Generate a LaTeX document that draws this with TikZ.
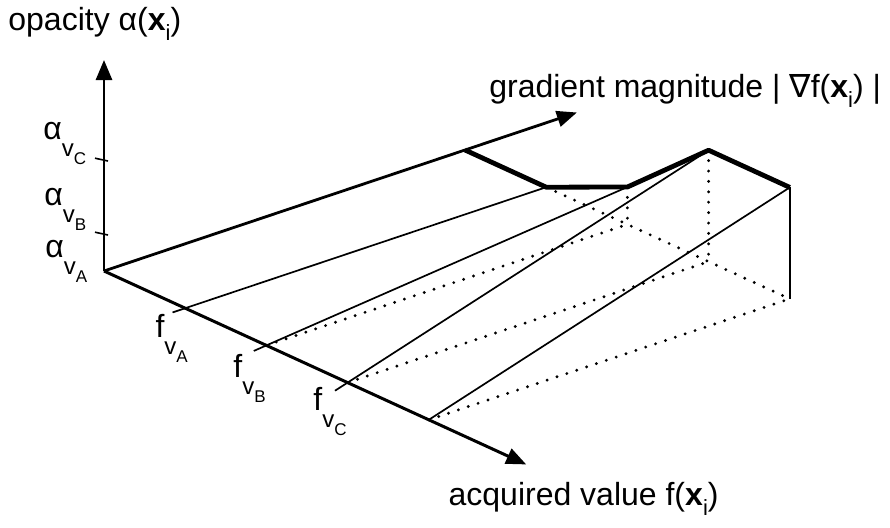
\documentclass[tikz,border=0pt]{standalone}
\usepackage{fontspec}
\setmainfont{Liberation Sans}
\newfontfamily\nablafont{DejaVu Sans}
\usepackage{tikz}
\usetikzlibrary{arrows.meta,calc}
\newcommand{\xsub}{\textbf{x}\raisebox{-5pt}{\fontsize{11}{11}\selectfont i}}
\newcommand{\vsub}[1]{\raisebox{-8.5pt}{\fontsize{12}{12}\selectfont v\raisebox{-4pt}{\fontsize{8.5}{8.5}\selectfont #1}}}

\begin{document}
\begin{tikzpicture}[x={(40.6pt,-18.6pt)},y={(180.5pt,60.5pt)},z={(0pt,0.5pt)},
  axisline/.style={line width=1.4pt,-{Triangle[length=10pt,width=8pt]}},
  surf/.style={line width=0.85pt},
  hidden/.style={line width=1.6pt,line cap=round,dash pattern=on 0pt off 5.2pt},
  ridge/.style={line width=2.4pt,line join=round},
  lab/.style={inner sep=0pt,anchor=base west,font=\fontsize{16}{19}\selectfont}]
\path[use as bounding box] (-52pt,-128pt) rectangle (393pt,135.5pt);

\coordinate (O) at (0,0,0);
\coordinate (atip) at (0,0,211);
\coordinate (gtip) at (0,1.31,0);
\coordinate (ftip) at (5.2,0,0);
\coordinate (aB) at (0,0,37.4);
\coordinate (aC) at (0,0,111.4);
\coordinate (fA) at (1,0,0);
\coordinate (fB) at (2,0,0);
\coordinate (fC) at (3,0,0);
\coordinate (fD) at (4,0,0);
\coordinate (g0) at (0,1,0);
\coordinate (bA) at (1,1,0);
\coordinate (bB) at (2,1,0);
\coordinate (bC) at (3,1,0);
\coordinate (bD) at (4,1,0);
\coordinate (tB) at (2,1,37.4);
\coordinate (tC) at (3,1,111.4);
\coordinate (tD) at (4,1,111.4);

\draw[hidden] (fB) -- (bB);
\draw[hidden] (fC) -- (bC);
\draw[hidden] (fD) -- (bD);
\draw[hidden] (bA) -- (bD);
\draw[hidden] (tB) -- (bB);
\draw[hidden] (tC) -- (bC);
\draw[surf] ($(fA)!-0.035!(bA)$) -- (bA);
\draw[surf] ($(fB)!-0.035!(tB)$) -- (tB);
\draw[surf] ($(fC)!-0.035!(tC)$) -- (tC);
\draw[surf] (fD) -- (tD);
\draw[line width=1.1pt] (tD) -- (bD);
\draw[ridge] (g0) -- (bA) -- (tB) -- (tC) -- (tD);

\draw[axisline] (O) -- (atip);
\draw[axisline] (O) -- (gtip);
\draw[axisline,line width=1.5pt] (O) -- (ftip);
\draw[line width=0.8pt] ([xshift=-4.5pt,yshift=0.7pt]aB) -- ([xshift=2pt,yshift=-0.7pt]aB);
\draw[line width=0.8pt] ([xshift=-4.5pt,yshift=0.7pt]aC) -- ([xshift=2pt,yshift=-0.7pt]aC);

\node[lab] (laba) at ([xshift=-48pt,yshift=15pt]atip) {opacity α(\xsub)};
\node[lab] (labg) at ([xshift=-44pt,yshift=7.3pt]gtip) {gradient magnitude | {\nablafont ∇}f(\xsub) |};
\node[lab] (labf) at ([xshift=-39pt,yshift=-20.3pt]ftip) {acquired value f(\xsub)};
\node[lab] (labaA) at ([xshift=-29.5pt,yshift=7pt]O) {α\vsub{A}};
\node[lab] (labaB) at ([xshift=-30pt,yshift=14.3pt]aB) {α\vsub{B}};
\node[lab] (labaC) at ([xshift=-30.5pt,yshift=10.2pt]aC) {α\vsub{C}};
\node[lab] (labfA) at ([xshift=-15pt,yshift=-14.5pt]fA) {f\vsub{A}};
\node[lab] (labfB) at ([xshift=-16.7pt,yshift=-15.8pt]fB) {f\vsub{B}};
\node[lab] (labfC) at ([xshift=-17.3pt,yshift=-13.7pt]fC) {f\vsub{C}};
\end{tikzpicture}
\end{document}
